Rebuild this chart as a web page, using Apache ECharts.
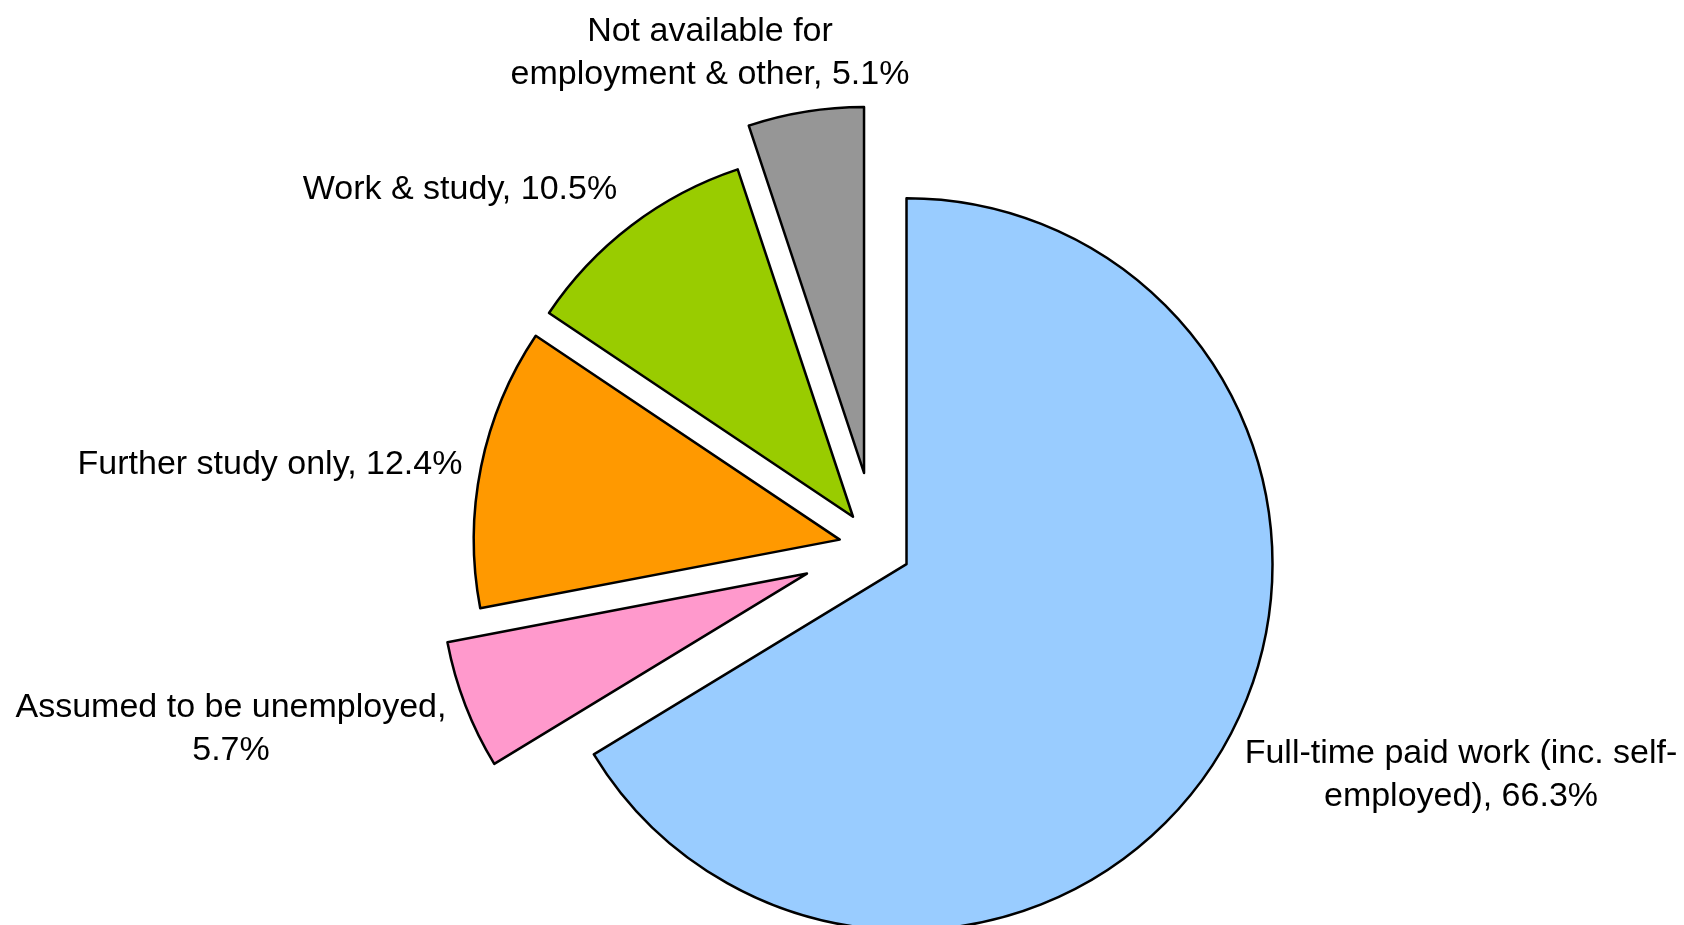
<!DOCTYPE html>
<html>
<head>
<meta charset="utf-8">
<script src="https://cdn.jsdelivr.net/npm/echarts@6/dist/echarts.min.js"></script>
<style>
  html, body { margin: 0; padding: 0; background: #fff; }
  #chart { width: 1684px; height: 925px; }
</style>
</head>
<body>
<div id="chart"></div>
<script>
// slices, clockwise from 12 o'clock
const categories = [
  'Full-time paid work (inc. self-employed)',
  'Assumed to be unemployed',
  'Further study only',
  'Work & study',
  'Not available for employment & other'
]
const values = [66.3, 5.7, 12.4, 10.5, 5.1]
// label text as wrapped in the original
const labelTexts = [
  'Full-time paid work (inc. self-\nemployed), 66.3%',
  'Assumed to be unemployed,\n5.7%',
  'Further study only, 12.4%',
  'Work & study, 10.5%',
  'Not available for\nemployment & other, 5.1%'
]

// styling
const colors = ['#99ccff', '#ff99cc', '#ff9900', '#99cc00', '#969696']
const explode = [35, 74, 37, 38, 75]
const labelPos = [[1461, 775], [231, 729], [270, 465], [460, 190], [710, 53]]
const pieCenter = [876, 547]

const chart = echarts.init(document.getElementById('chart'))

const total = values.reduce((a, b) => a + b, 0)
const border = { borderColor: '#000', borderWidth: 2.5 }

// one series per slice so each slice can be pulled out by its own amount
let cum = 0
const series = categories.map(function (cat, k) {
  const mid = ((cum + values[k] / 2) / total) * Math.PI * 2
  cum += values[k]
  const cx = pieCenter[0] + Math.sin(mid) * explode[k]
  const cy = pieCenter[1] - Math.cos(mid) * explode[k]
  return {
    type: 'pie',
    center: [cx, cy],
    radius: 366,
    startAngle: 90,
    clockwise: true,
    avoidLabelOverlap: false,
    silent: true,
    labelLine: { show: false },
    labelLayout: {
      x: labelPos[k][0],
      y: labelPos[k][1],
      align: 'center',
      verticalAlign: 'middle'
    },
    data: categories.map(function (name, i) {
      if (i === k) {
        return {
          name: name,
          value: values[i],
          itemStyle: Object.assign({ color: colors[i] }, border),
          label: {
            show: true,
            formatter: labelTexts[i],
            color: '#000',
            fontFamily: 'Liberation Sans, Arial, sans-serif',
            fontSize: 34,
            lineHeight: 43,
            align: 'center'
          }
        }
      }
      return {
        name: name,
        value: values[i],
        itemStyle: { color: 'transparent', borderWidth: 0 },
        label: { show: false }
      }
    })
  }
})

chart.setOption({
  animation: false,
  backgroundColor: '#fff',
  series: series
})
</script>
</body>
</html>
